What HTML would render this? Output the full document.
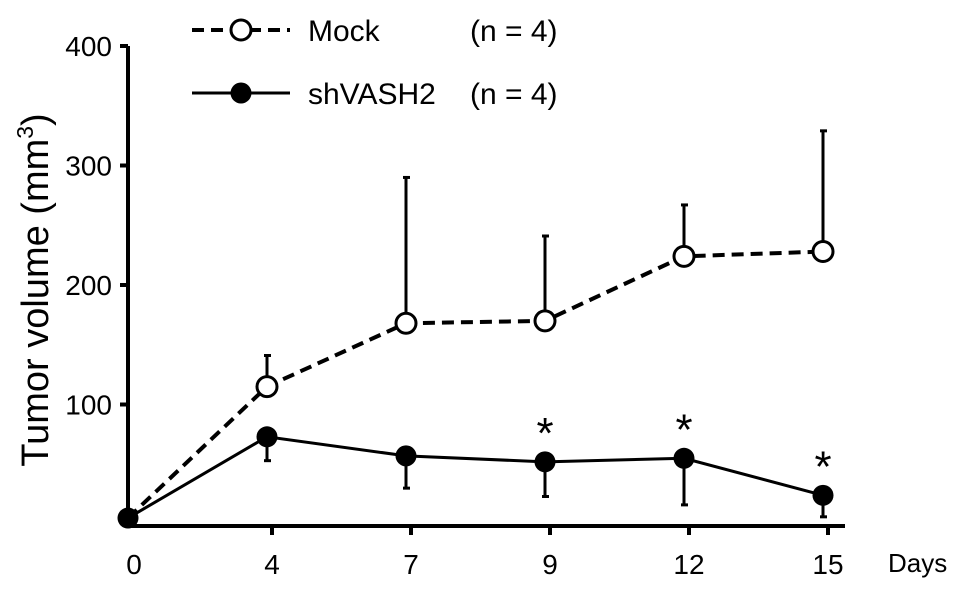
<!DOCTYPE html>
<html><head><meta charset="utf-8"><style>
html,body{margin:0;padding:0;background:#fff;}
svg{display:block;font-family:"Liberation Sans",sans-serif;}
</style></head><body>
<svg id="chart" width="969" height="592" viewBox="0 0 969 592"></svg>
<script>
const categories=["0","4","7","9","12","15"];
const mockValues=[5,115,168,170,224,228];
const mockErrUpper=[5,141,290,241,267,329];
const shValues=[5,73,57,52,55,24];
const shErrLower=[5,53,30,23,16,6];
const yTicks=[100,200,300,400];
const starIdx=[3,4,5];
const NS="http://www.w3.org/2000/svg";
const svg=document.getElementById('chart');
const X0=128,XSTEP=139,Y0=524,YK=1.195;
function xs(i){return X0+i*XSTEP;}
function ys(v){return Y0-v*YK;}
function el(t,a,p){const e=document.createElementNS(NS,t);for(const k in a)e.setAttribute(k,a[k]);(p||svg).appendChild(e);return e;}
let a=el('line',{x1:128,y1:46,x2:128,y2:527,stroke:'#000','stroke-width':4});


a=el('line',{x1:126,y1:526,x2:845,y2:526,stroke:'#000','stroke-width':4});


yTicks.forEach(v=>{
 const t=el('line',{x1:120,y1:ys(v),x2:128,y2:ys(v),stroke:'#000','stroke-width':4});
 
 
 const l=el('text',{x:112,y:ys(v)+10,'text-anchor':'end','font-size':28});
 l.textContent=v;
 
 
});
categories.forEach((c,i)=>{
 const x=xs(i)+(i?5:0);
 if(i){const t=el('line',{x1:x,y1:526,x2:x,y2:535,stroke:'#000','stroke-width':4});
 
 }
 const l=el('text',{x:xs(i)+(i?5:6),y:574,'text-anchor':'middle','font-size':28});
 l.textContent=c;
 
 
});
let d=el('text',{x:888,y:572,'font-size':26});d.textContent='Days';


let yt=el('text',{x:0,y:0,'font-size':38,transform:'translate(48,290) rotate(-90)','text-anchor':'middle'});
yt.innerHTML='Tumor volume (mm<tspan font-size="23" dy="-15">3</tspan><tspan dy="15">)</tspan>';


mockValues.forEach((v,i)=>{ if(i===0)return;
 const x=xs(i);
 const e=el('line',{x1:x,y1:ys(v),x2:x,y2:ys(mockErrUpper[i]),stroke:'#000','stroke-width':3});
 
 
 const c=el('line',{x1:x-3,y1:ys(mockErrUpper[i]),x2:x+4,y2:ys(mockErrUpper[i]),stroke:'#000','stroke-width':3});
 
 
});
shValues.forEach((v,i)=>{ if(i===0)return;
 const x=xs(i);
 const e=el('line',{x1:x,y1:ys(v),x2:x,y2:ys(shErrLower[i]),stroke:'#000','stroke-width':3});
 
 
 const c=el('line',{x1:x-3,y1:ys(shErrLower[i]),x2:x+4,y2:ys(shErrLower[i]),stroke:'#000','stroke-width':3});
 
 
});
let p=el('polyline',{points:mockValues.map((v,i)=>xs(i)+','+ys(v)).join(' '),fill:'none',stroke:'#000','stroke-width':4,'stroke-dasharray':'12,7'});


p=el('polyline',{points:shValues.map((v,i)=>xs(i)+','+ys(v)).join(' '),fill:'none',stroke:'#000','stroke-width':3});


mockValues.forEach((v,i)=>{ if(i===0)return;
 const c=el('circle',{cx:xs(i),cy:ys(v),r:10,fill:'#fff',stroke:'#000','stroke-width':3});
 
 
});
shValues.forEach((v,i)=>{
 const c=el('circle',{cx:xs(i),cy:ys(v),r:10.5,fill:'#000'});
 
 
});
starIdx.forEach(i=>{
 const s=el('text',{x:xs(i),y:ys(shValues[i])-14,'text-anchor':'middle','font-size':44});
 s.textContent='*';
 
 
});
const lg=el('g',{});


let ll=el('line',{x1:192,y1:30,x2:290,y2:30,stroke:'#000','stroke-width':4,'stroke-dasharray':'12,7'},lg);


ll=el('circle',{cx:241,cy:30,r:10,fill:'#fff',stroke:'#000','stroke-width':3},lg);


let lt=el('text',{x:308,y:41,'font-size':30},lg);lt.textContent='Mock';


lt=el('text',{x:470,y:41,'font-size':30},lg);lt.textContent='(n = 4)';


ll=el('line',{x1:192,y1:93,x2:290,y2:93,stroke:'#000','stroke-width':3},lg);


ll=el('circle',{cx:241,cy:93,r:10.5,fill:'#000'},lg);


lt=el('text',{x:308,y:104,'font-size':30},lg);lt.textContent='shVASH2';


lt=el('text',{x:470,y:104,'font-size':30},lg);lt.textContent='(n = 4)';


</script>
</body></html>
